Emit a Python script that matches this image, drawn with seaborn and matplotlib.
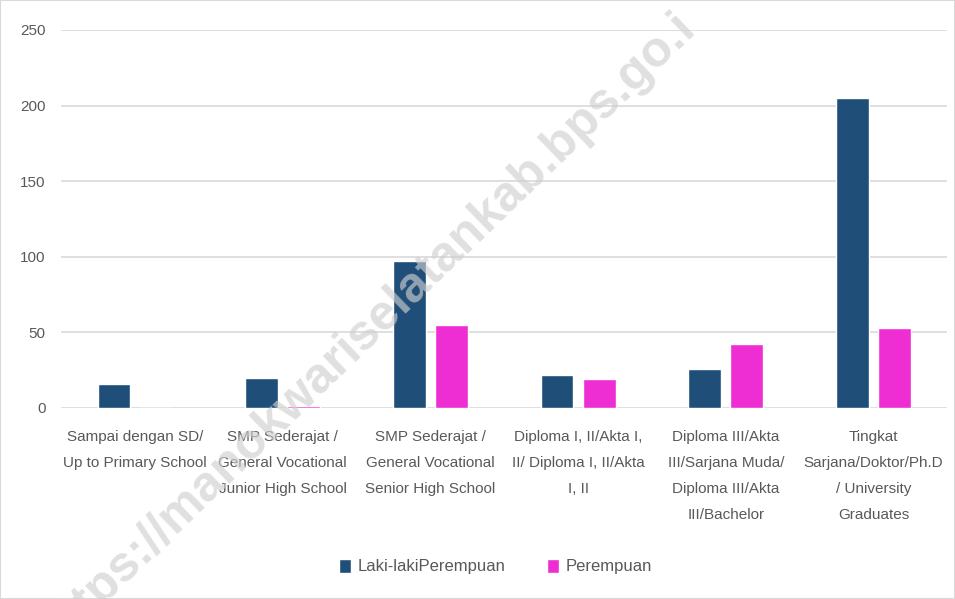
import numpy as np
import pandas as pd
import seaborn as sns
import matplotlib.pyplot as plt

categories = ['Sampai dengan SD/\nUp to Primary School',
              'SMP Sederajat /\nGeneral Vocational\nJunior High School',
              'SMP Sederajat /\nGeneral Vocational\nSenior High School',
              'Diploma I, II/Akta I,\nII/ Diploma I, II/Akta\nI, II',
              'Diploma III/Akta\nIII/Sarjana Muda/\nDiploma III/Akta\nIII/Bachelor',
              'Tingkat\nSarjana/Doktor/Ph.D\n/ University\nGraduates']
laki = [16, 20, 97, 22, 26, 205]
perempuan = [0, 1, 55, 19, 42, 53]
series = ['Laki-lakiPerempuan', 'Perempuan']
colors = ['#1f4e79', '#ee2ed2']

df = pd.DataFrame({'cat': categories * 2,
                   'val': laki + perempuan,
                   'series': [series[0]] * 6 + [series[1]] * 6})

sns.set_theme(style='white')
plt.rcParams['font.family'] = ['Liberation Sans', 'DejaVu Sans']

fig = plt.figure(figsize=(9.55, 5.99), dpi=100)
ax = fig.add_axes([0.064, 0.319, 0.928, 0.631])

sns.barplot(data=df, x='cat', y='val', hue='series', palette=colors,
            width=0.57, gap=0.22, ax=ax, saturation=1)

ax.set_ylim(0, 250)
ax.set_xlim(-0.5, 5.5)
ax.set_yticks(np.arange(0, 251, 50))
ax.grid(axis='y', color='#d9d9d9', linewidth=1.2)
ax.set_axisbelow(True)
for s in ax.spines.values():
    s.set_visible(False)
ax.set_xlabel('')
ax.set_ylabel('')
ax.tick_params(axis='both', length=0, labelsize=11, colors='#595959')
ax.tick_params(axis='x', pad=16)
ax.tick_params(axis='y', pad=11)
for t in ax.get_xticklabels():
    t.set_linespacing(2.1)

ax.legend(loc='center', bbox_to_anchor=(0.49, -0.42), ncol=2, frameon=False,
          fontsize=12, labelcolor='#595959', handlelength=0.7, handleheight=0.9,
          columnspacing=2.5, handletextpad=0.4)

fig.text(0.385, 0.45, 'https://manokwariselatankab.bps.go.i', rotation=44,
         fontsize=36, fontweight='bold', color='#cfcfcf', alpha=0.65,
         ha='center', va='center', zorder=10)

fig.patches.append(plt.Rectangle((0, 0), 1, 1, transform=fig.transFigure,
                                 fill=False, edgecolor='#d9d9d9', linewidth=1.5))

fig.savefig('out.png', dpi=100)
